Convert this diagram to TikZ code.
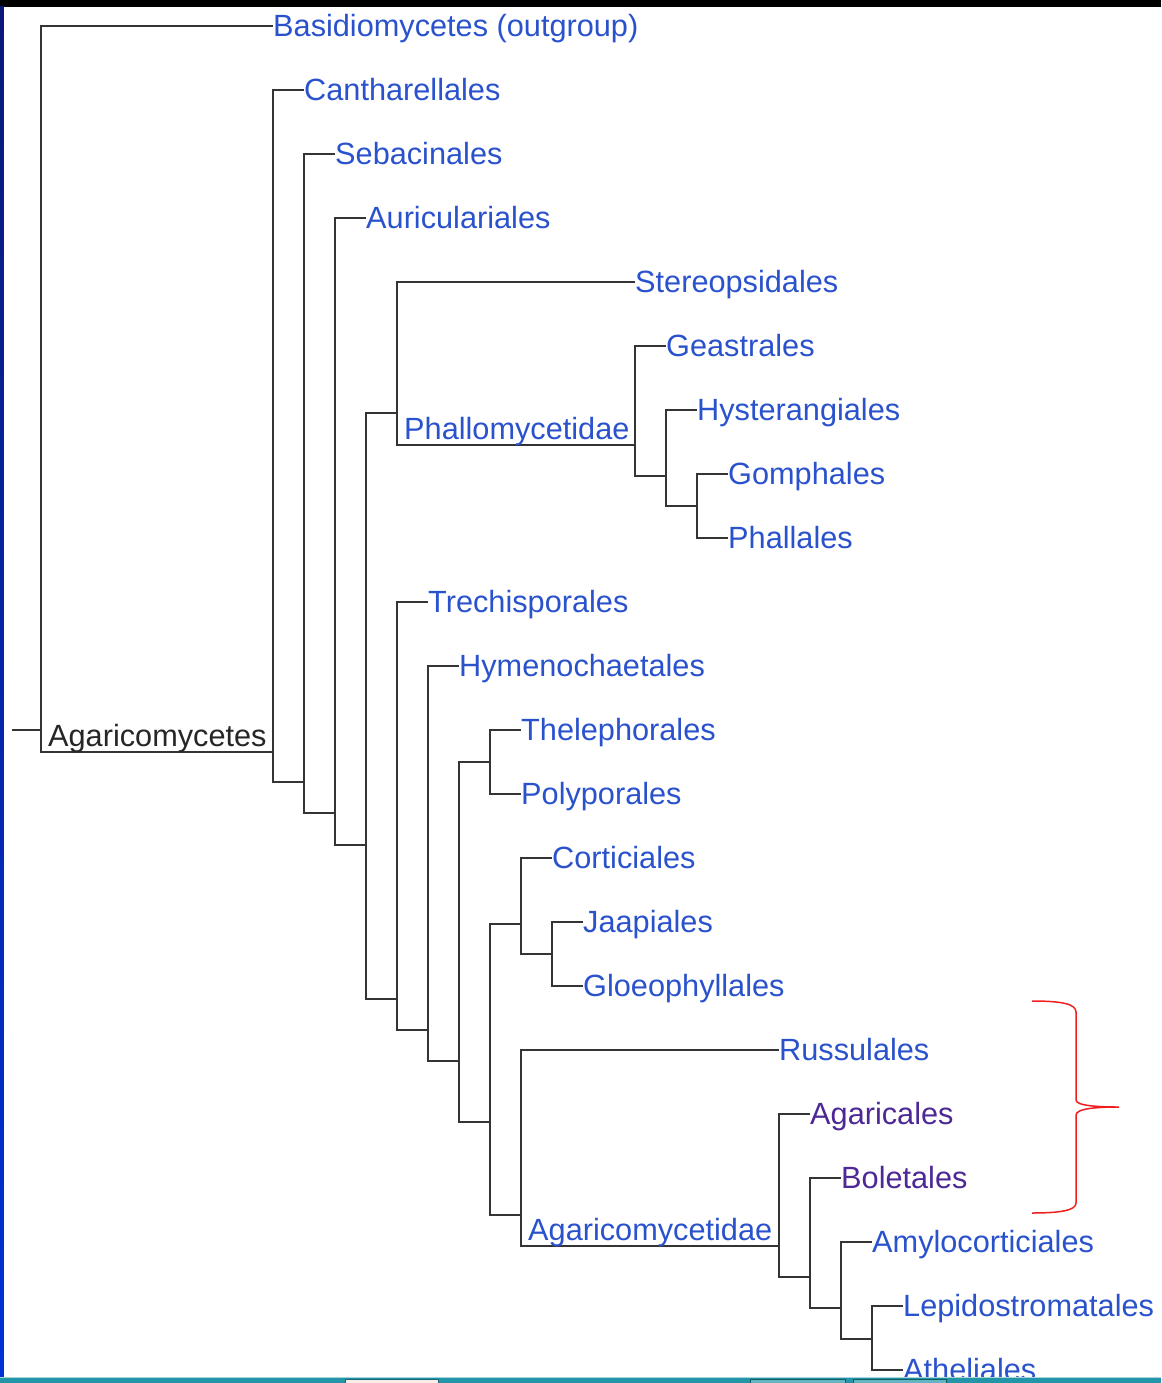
\documentclass[tikz,border=0pt]{standalone}
\usepackage{fontspec}
\setmainfont{Liberation Sans}
\definecolor{linkblue}{RGB}{42,82,204}
\definecolor{visited}{RGB}{78,40,150}
\definecolor{branch}{RGB}{52,52,52}
\definecolor{bracered}{RGB}{240,30,30}
\definecolor{barteal}{RGB}{34,150,168}
\tikzset{
  leaf/.style={anchor=base west, inner sep=0pt, yshift=-10.5pt, text=linkblue},
  clade/.style={anchor=base west, inner sep=0pt, text=linkblue},
  edge/.style={draw=branch, line width=2.3pt},
}

\begin{document}
\begin{tikzpicture}[x=1pt, y=-1pt, font=\fontsize{30.7}{36}\selectfont]
  \useasboundingbox (0,0) rectangle (1161,1383);
  \fill[white] (0,0) rectangle (1161,1383);

  % inner nodes of the tree
  \coordinate (stub) at (12,730);
  \coordinate (root) at (41,730);
  \coordinate (agm) at (273,752);
  \coordinate (n2) at (304,782);
  \coordinate (n3) at (335,813);
  \coordinate (n4) at (366,845);
  \coordinate (n5) at (397,413);
  \coordinate (phm) at (635,445);
  \coordinate (n7) at (666,476);
  \coordinate (n8) at (697,506);
  \coordinate (n9) at (397,999);
  \coordinate (n10) at (428,1030);
  \coordinate (n11) at (459,1061);
  \coordinate (n12) at (490,762);
  \coordinate (n13) at (490,1122);
  \coordinate (n14) at (521,924);
  \coordinate (n15) at (552,954);
  \coordinate (n16) at (521,1215);
  \coordinate (agd) at (779,1246);
  \coordinate (n18) at (810,1277);
  \coordinate (n19) at (841,1308);
  \coordinate (n20) at (872,1339);

  % tips, one row every 64px
  \coordinate (basi) at (273,26);
  \coordinate (cant) at (304,90);
  \coordinate (seba) at (335,154);
  \coordinate (auri) at (366,218);
  \coordinate (ster) at (635,282);
  \coordinate (geas) at (666,346);
  \coordinate (hyst) at (697,410);
  \coordinate (gomp) at (728,474);
  \coordinate (phal) at (728,538);
  \coordinate (trec) at (428,602);
  \coordinate (hyme) at (459,666);
  \coordinate (thel) at (521,730);
  \coordinate (poly) at (521,794);
  \coordinate (cort) at (552,858);
  \coordinate (jaap) at (583,922);
  \coordinate (gloe) at (583,986);
  \coordinate (russ) at (779,1050);
  \coordinate (agar) at (810,1114);
  \coordinate (bole) at (841,1178);
  \coordinate (amyl) at (872,1242);
  \coordinate (lepi) at (903,1306);
  \coordinate (athe) at (903,1370);

  \draw[edge] (stub) -- (root);
  \foreach \p/\c in {root/basi, root/agm, agm/cant, agm/n2, n2/seba, n2/n3,
      n3/auri, n3/n4, n4/n5, n4/n9, n5/ster, n5/phm, phm/geas, phm/n7,
      n7/hyst, n7/n8, n8/gomp, n8/phal, n9/trec, n9/n10, n10/hyme, n10/n11,
      n11/n12, n11/n13, n12/thel, n12/poly, n13/n14, n13/n16, n14/cort,
      n14/n15, n15/jaap, n15/gloe, n16/russ, n16/agd, agd/agar, agd/n18,
      n18/bole, n18/n19, n19/amyl, n19/n20, n20/lepi, n20/athe}
    \draw[edge] (\p) |- (\c);

  % clade names sit on their branch
  \node[clade, text=black!85] (agmL) at (48,746) {Agaricomycetes};
  \node[clade] (phmL) at (404,439) {Phallomycetidae};
  \node[clade] (agdL) at (528,1240) {Agaricomycetidae};

  \node[leaf] (basiL) at (basi) {Basidiomycetes (outgroup)};
  \node[leaf] (cantL) at (cant) {Cantharellales};
  \node[leaf] (sebaL) at (seba) {Sebacinales};
  \node[leaf] (auriL) at (auri) {Auriculariales};
  \node[leaf] (sterL) at (ster) {Stereopsidales};
  \node[leaf] (geasL) at (geas) {Geastrales};
  \node[leaf] (hystL) at (hyst) {Hysterangiales};
  \node[leaf] (gompL) at (gomp) {Gomphales};
  \node[leaf] (phalL) at (phal) {Phallales};
  \node[leaf] (trecL) at (trec) {Trechisporales};
  \node[leaf] (hymeL) at (hyme) {Hymenochaetales};
  \node[leaf] (thelL) at (thel) {Thelephorales};
  \node[leaf] (polyL) at (poly) {Polyporales};
  \node[leaf] (cortL) at (cort) {Corticiales};
  \node[leaf] (jaapL) at (jaap) {Jaapiales};
  \node[leaf] (gloeL) at (gloe) {Gloeophyllales};
  \node[leaf] (russL) at (russ) {Russulales};
  \node[leaf, text=visited] (agarL) at (agar) {Agaricales};
  \node[leaf, text=visited] (boleL) at (bole) {Boletales};
  \node[leaf] (amylL) at (amyl) {Amylocorticiales};
  \node[leaf] (lepiL) at (lepi) {Lepidostromatales};
  \node[leaf] (atheL) at (athe) {Atheliales};

  % red brace
  \draw[bracered, line width=1.5pt]
    (1032,1001) .. controls (1062,1001) and (1076,1004) .. (1076,1012)
    -- (1076,1100) .. controls (1076,1106) and (1100,1107) .. (1119,1107)
    .. controls (1100,1107) and (1076,1108) .. (1076,1115)
    -- (1076,1203) .. controls (1076,1210) and (1062,1213) .. (1032,1213);

  % window frame
  \fill[black] (0,0) rectangle (1161,7);
  \shade[top color={rgb,255:red,10;green,25;blue,120}, bottom color={rgb,255:red,0;green,50;blue,215}]
    (0,7) rectangle (3.5,1377);
  \fill[barteal] (0,1377) rectangle (1161,1383);
  \draw[barteal!40, line width=0.8pt] (0,1377.5) -- (1161,1377.5);
  \filldraw[fill={rgb,255:red,250;green,235;blue,235}, draw=barteal!70!black, line width=1pt]
    (345,1379) rectangle (438,1384);
  \filldraw[fill=barteal!70!white, draw=barteal!60!black, line width=1pt]
    (750,1379) rectangle (845,1384);
  \filldraw[fill=barteal!70!white, draw=barteal!60!black, line width=1pt]
    (853,1379) rectangle (946,1384);
\end{tikzpicture}
\end{document}
